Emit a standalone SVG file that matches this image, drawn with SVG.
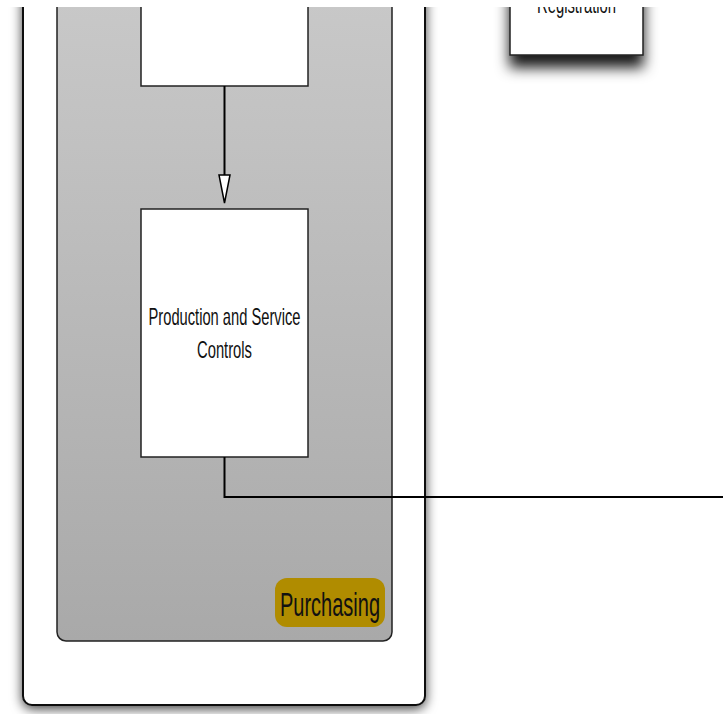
<svg xmlns="http://www.w3.org/2000/svg" width="723" height="714" viewBox="0 0 723 714">
<style>
.box{fill:#fff;stroke:#222;stroke-width:1.5}
.lbl{font-family:"Liberation Sans",Arial,sans-serif;fill:#111}
.conn{fill:none;stroke:#000;stroke-width:2}
</style>
<defs>
<linearGradient id="lane" x1="0" y1="0" x2="0" y2="1">
<stop offset="0" stop-color="#c9c9c9"/>
<stop offset="1" stop-color="#a9a9a9"/>
</linearGradient>
<filter id="sh" x="-10%" y="-10%" width="120%" height="120%">
<feDropShadow dx="0" dy="3" stdDeviation="6" flood-color="#000" flood-opacity="0.75"/>
</filter>
<filter id="sh2" x="-20%" y="-20%" width="140%" height="180%">
<feDropShadow dx="0" dy="12" stdDeviation="7" flood-color="#000" flood-opacity="0.9"/>
</filter>
</defs>
<g id="pool">
<rect x="23" y="-20" width="402" height="725" rx="9" fill="#fff" stroke="#111" stroke-width="2" filter="url(#sh)"/>
</g>
<g id="lane-purchasing">
<rect x="57" y="-20" width="335" height="661" rx="9" fill="url(#lane)" stroke="#222" stroke-width="1.5"/>
<rect x="275" y="578" width="110" height="49" rx="12" fill="#b08c00"/>
<text class="lbl" x="330" y="616" font-size="34" text-anchor="middle" textLength="100" lengthAdjust="spacingAndGlyphs">Purchasing</text>
</g>
<g id="node-top">
<rect class="box" x="141" y="-20" width="167" height="106"/>
</g>
<g id="node-production">
<rect class="box" x="141" y="209" width="167" height="248"/>
<text class="lbl" x="224.5" y="325" font-size="24" text-anchor="middle" textLength="152" lengthAdjust="spacingAndGlyphs">Production and Service</text>
<text class="lbl" x="224.5" y="357.5" font-size="24" text-anchor="middle" textLength="55" lengthAdjust="spacingAndGlyphs">Controls</text>
</g>
<g id="node-registration">
<rect class="box" x="510" y="-20" width="133" height="75" filter="url(#sh2)"/>
<text class="lbl" x="576.5" y="13" font-size="24" text-anchor="middle" textLength="79" lengthAdjust="spacingAndGlyphs">Registration</text>
</g>
<g id="connectors">
<path d="M224.5,86 L224.5,175" class="conn"/>
<path d="M219,175 L230,175 L224.5,203 Z" fill="#fff" stroke="#000" stroke-width="1.5"/>
<path d="M224.5,457 L224.5,497 L723,497" class="conn" stroke-width="2.5"/>
</g>
<rect x="0" y="0" width="723" height="7" fill="#fff"/>
</svg>
